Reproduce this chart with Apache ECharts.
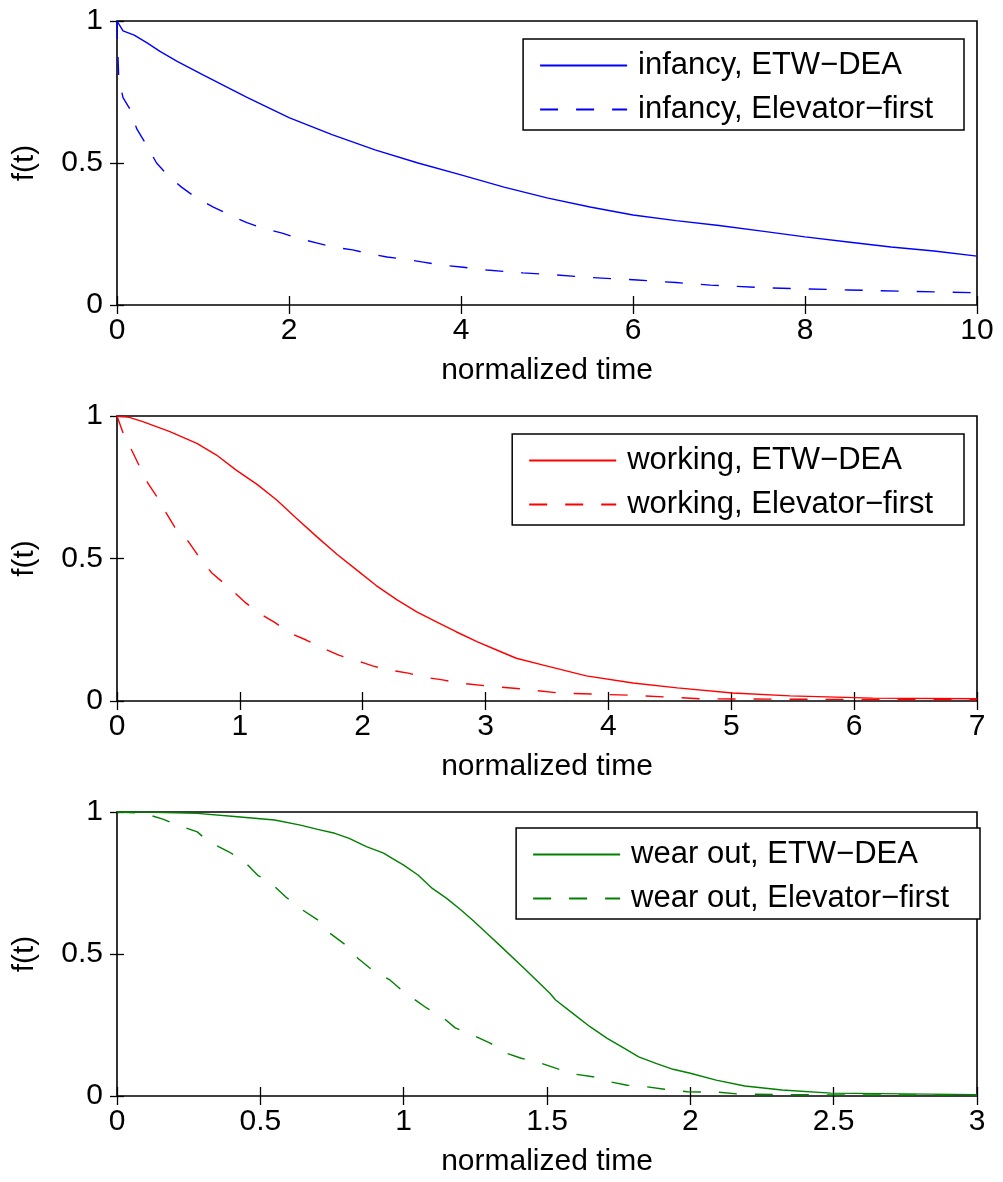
<!DOCTYPE html>
<html>
<head>
<meta charset="utf-8">
<script src="https://cdn.jsdelivr.net/npm/echarts@6/dist/echarts.min.js"></script>
<style>
  html, body { margin: 0; padding: 0; background: #fff; }
  #chart { width: 1003px; height: 1182px; }
</style>
</head>
<body>
<div id="chart"></div>
<script>
// infancy (top panel)
var infancyEtwT = [0, 0.07, 0.2, 0.35, 0.5, 0.7, 1, 1.5, 2, 2.5, 3, 3.5, 4, 4.5, 5, 5.5, 6, 6.5, 7, 7.5, 8, 8.5, 9, 9.5, 10];
var infancyEtwF = [1, 0.965, 0.95, 0.923, 0.893, 0.858, 0.81, 0.733, 0.66, 0.6, 0.546, 0.5, 0.458, 0.415, 0.377, 0.345, 0.317, 0.297, 0.28, 0.26, 0.24, 0.222, 0.204, 0.19, 0.172];
var infancyElevT = [0, 0.005, 0.02, 0.07, 0.15, 0.23, 0.33, 0.46, 0.58, 0.75, 0.91, 1.12, 1.31, 1.51, 1.7, 1.92, 2.09, 2.33, 2.51, 2.74, 2.9, 3.14, 3.33, 3.56, 3.76, 4.0, 4.3, 4.72, 5.1, 5.5, 6.05, 6.5, 6.9, 7.6, 8.5, 9.2, 10];
var infancyElevF = [1, 0.93, 0.8, 0.73, 0.69, 0.62, 0.57, 0.5, 0.46, 0.415, 0.38, 0.345, 0.317, 0.29, 0.27, 0.253, 0.236, 0.218, 0.204, 0.194, 0.183, 0.169, 0.162, 0.151, 0.141, 0.134, 0.123, 0.113, 0.106, 0.097, 0.088, 0.079, 0.07, 0.06, 0.053, 0.048, 0.043];

// working (middle panel)
var workingEtwT = [0, 0.1, 0.21, 0.43, 0.65, 0.81, 0.97, 1.14, 1.3, 1.46, 1.63, 1.79, 1.95, 2.11, 2.28, 2.44, 2.6, 2.76, 2.93, 3.09, 3.25, 3.47, 3.82, 4.2, 4.56, 5.01, 5.48, 6.15, 7];
var workingEtwF = [1, 0.995, 0.98, 0.945, 0.904, 0.863, 0.81, 0.76, 0.705, 0.641, 0.575, 0.515, 0.46, 0.405, 0.355, 0.313, 0.278, 0.243, 0.208, 0.179, 0.15, 0.126, 0.088, 0.063, 0.046, 0.028, 0.018, 0.01, 0.008];
var workingElevT = [0, 0.05, 0.12, 0.17, 0.25, 0.32, 0.4, 0.47, 0.58, 0.66, 0.77, 0.92, 1.04, 1.15, 1.29, 1.39, 1.54, 1.65, 1.81, 1.94, 2.08, 2.21, 2.37, 2.49, 2.65, 2.79, 3.01, 3.3, 3.6, 4.2, 4.74, 5.5, 6.5, 7];
var workingElevF = [1, 0.94, 0.88, 0.835, 0.765, 0.72, 0.66, 0.61, 0.56, 0.51, 0.45, 0.395, 0.347, 0.31, 0.274, 0.242, 0.214, 0.19, 0.16, 0.144, 0.123, 0.109, 0.098, 0.084, 0.074, 0.063, 0.053, 0.042, 0.028, 0.02, 0.008, 0.006, 0.005, 0.005];

// wear out (bottom panel)
var wearEtwT = [0, 0.09, 0.28, 0.41, 0.55, 0.64, 0.7, 0.76, 0.81, 0.87, 0.93, 0.96, 1.0, 1.05, 1.1, 1.15, 1.2, 1.24, 1.29, 1.34, 1.42, 1.51, 1.53, 1.59, 1.65, 1.71, 1.77, 1.82, 1.88, 1.94, 2.0, 2.09, 2.19, 2.32, 2.49, 3];
var wearEtwF = [1, 1, 0.995, 0.984, 0.972, 0.954, 0.939, 0.925, 0.907, 0.878, 0.855, 0.837, 0.813, 0.778, 0.731, 0.696, 0.655, 0.62, 0.573, 0.526, 0.45, 0.362, 0.338, 0.291, 0.244, 0.203, 0.168, 0.138, 0.115, 0.094, 0.08, 0.056, 0.035, 0.021, 0.01, 0.005];
var wearElevT = [0, 0.09, 0.16, 0.21, 0.28, 0.32, 0.39, 0.44, 0.49, 0.54, 0.59, 0.64, 0.7, 0.74, 0.8, 0.84, 0.89, 0.95, 1.0, 1.08, 1.14, 1.18, 1.25, 1.3, 1.36, 1.41, 1.48, 1.53, 1.59, 1.66, 1.72, 1.78, 1.85, 1.91, 1.99, 2.1, 2.17, 2.3, 2.5, 3];
var wearElevF = [1, 0.996, 0.975, 0.954, 0.93, 0.895, 0.86, 0.83, 0.778, 0.747, 0.7, 0.66, 0.62, 0.575, 0.53, 0.485, 0.444, 0.41, 0.367, 0.31, 0.274, 0.24, 0.21, 0.187, 0.15, 0.133, 0.115, 0.098, 0.078, 0.068, 0.05, 0.038, 0.032, 0.024, 0.015, 0.013, 0.007, 0.005, 0.004, 0.003];

var xMax = [10, 7, 3];
var xStep = [2, 1, 0.5];
var panelColors = ['#0000ff', '#ff0000', '#008000'];
var panelNames = [
  ['infancy, ETW\u2212DEA', 'infancy, Elevator\u2212first'],
  ['working, ETW\u2212DEA', 'working, Elevator\u2212first'],
  ['wear out, ETW\u2212DEA', 'wear out, Elevator\u2212first']
];
var panelData = [
  [[infancyEtwT, infancyEtwF], [infancyElevT, infancyElevF]],
  [[workingEtwT, workingEtwF], [workingElevT, workingElevF]],
  [[wearEtwT, wearEtwF], [wearElevT, wearElevF]]
];

var FONT = '"Liberation Sans", Arial, Helvetica, sans-serif';
var gridTops = [21, 416, 812];
var gridHeights = [284, 285, 284];
var legendTops = [39, 434, 828];
var legendRights = [39, 39, 23];

function pairs(t, f) {
  return t.map(function (v, i) { return [v, f[i]]; });
}

var grid = [], xAxis = [], yAxis = [], series = [], legend = [];
for (var p = 0; p < 3; p++) {
  grid.push({
    left: 117, width: 860, top: gridTops[p], height: gridHeights[p],
    show: true, borderColor: '#000', borderWidth: 1.6, backgroundColor: '#fff'
  });
  // bottom axis with labels
  xAxis.push({
    type: 'value', gridIndex: p, min: 0, max: xMax[p], interval: xStep[p],
    name: 'normalized time', nameLocation: 'middle', nameGap: 51,
    nameTextStyle: { color: '#000', fontSize: 30, fontFamily: FONT },
    axisLine: { show: false },
    axisTick: { show: true, inside: true, length: 9, lineStyle: { color: '#000', width: 1.3 } },
    axisLabel: { color: '#000', fontSize: 30, fontFamily: FONT, margin: 11 },
    splitLine: { show: false }
  });
  // top axis, ticks only
  xAxis.push({
    type: 'value', gridIndex: p, position: 'top', min: 0, max: xMax[p], interval: xStep[p],
    axisLine: { show: false },
    axisTick: { show: true, inside: true, length: 9, lineStyle: { color: '#000', width: 1.3 } },
    axisLabel: { show: false }, splitLine: { show: false }
  });
  yAxis.push({
    type: 'value', gridIndex: p, min: 0, max: 1, interval: 0.5,
    name: 'f(t)', nameLocation: 'middle', nameGap: 77,
    nameTextStyle: { color: '#000', fontSize: 30, fontFamily: FONT },
    axisLine: { show: false },
    axisTick: { show: true, inside: true, length: 7, lineStyle: { color: '#000', width: 1.3 } },
    axisLabel: { color: '#000', fontSize: 30, fontFamily: FONT, margin: 14 },
    splitLine: { show: false }
  });
  yAxis.push({
    type: 'value', gridIndex: p, position: 'right', min: 0, max: 1, interval: 0.5,
    axisLine: { show: false },
    axisTick: { show: true, inside: true, length: 7, lineStyle: { color: '#000', width: 1.3 } },
    axisLabel: { show: false }, splitLine: { show: false }
  });

  for (var s = 0; s < 2; s++) {
    series.push({
      type: 'line',
      name: panelNames[p][s],
      xAxisIndex: p * 2, yAxisIndex: p * 2,
      data: pairs(panelData[p][s][0], panelData[p][s][1]),
      showSymbol: false, symbol: 'none', symbolSize: 0,
      animation: false,
      lineStyle: { color: panelColors[p], width: 1.4, type: s === 0 ? 'solid' : [18, 18] },
      itemStyle: { color: panelColors[p] }
    });
  }

  legend.push({
    data: panelNames[p],
    orient: 'vertical',
    right: legendRights[p], top: legendTops[p],
    itemWidth: 87, itemHeight: 30, itemGap: 13,
    padding: [11, 31, 5, 16],
    borderColor: '#000', borderWidth: 1.5, backgroundColor: '#fff',
    selectedMode: false,
    itemStyle: { opacity: 0 },
    textStyle: { color: '#000', fontSize: 31, fontFamily: FONT, lineHeight: 30, padding: [0, 0, 0, 6] }
  });
}

var myChart = echarts.init(document.getElementById('chart'));
myChart.setOption({
  animation: false,
  backgroundColor: '#fff',
  grid: grid,
  xAxis: xAxis,
  yAxis: yAxis,
  legend: legend,
  series: series
});
</script>
</body>
</html>
